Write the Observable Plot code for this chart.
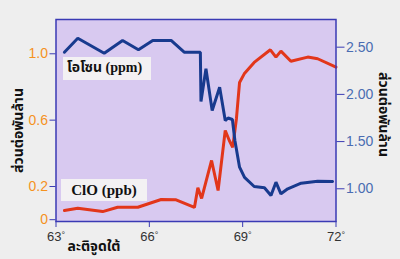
<!DOCTYPE html>
<html>
<head>
<meta charset="utf-8">
<script src="https://cdn.jsdelivr.net/npm/d3@7"></script>
<script src="https://cdn.jsdelivr.net/npm/@observablehq/plot@0.6"></script>
<style>
  html, body { margin: 0; padding: 0; background: #eeeeee; }
  #wrap { position: relative; width: 400px; height: 259px; overflow: hidden; }
  .lg { position: absolute; background: #f3f1f3; color: #111; font-family: "Liberation Serif", "Times New Roman", serif; font-weight: bold; font-size: 14px; line-height: 22px; white-space: nowrap; overflow: visible; }
  .lg .th { font-family: "Noto Sans Thai", "Noto Sans", sans-serif; }
</style>
</head>
<body>
<div id="wrap"></div>
<script>
// ClO (ppb) — left axis
const cloLat = [63.27, 63.70, 64.50, 64.98, 65.63, 66.38, 66.86, 67.45, 67.56, 67.68, 68.00, 68.21, 68.44, 68.57, 68.68, 68.80, 68.90, 69.05, 69.37, 69.89, 70.07, 70.23, 70.55, 71.09, 71.41, 72.00];
const cloVal = [0.055, 0.069, 0.049, 0.075, 0.075, 0.122, 0.120, 0.074, 0.192, 0.128, 0.357, 0.176, 0.538, 0.477, 0.437, 0.610, 0.827, 0.879, 0.948, 1.024, 0.980, 1.016, 0.955, 0.980, 0.970, 0.919];
// Ozone (ppm) — right axis
const ozLat = [63.27, 63.70, 64.55, 65.14, 65.65, 66.11, 66.70, 67.12, 67.64, 67.66, 67.82, 68.02, 68.26, 68.44, 68.53, 68.67, 68.75, 68.90, 69.06, 69.37, 69.70, 69.91, 70.07, 70.23, 70.45, 70.88, 71.41, 71.89];
const ozVal = [2.447, 2.595, 2.436, 2.571, 2.472, 2.571, 2.571, 2.447, 2.447, 1.925, 2.271, 1.829, 2.076, 1.723, 1.750, 1.734, 1.512, 1.229, 1.120, 1.024, 1.011, 0.929, 1.070, 0.947, 1.000, 1.059, 1.081, 1.077];

const xTicks = [63, 66, 69, 72];
const leftTicks = [0, 0.2, 0.6, 1.0];
const rightTicks = [1.0, 1.5, 2.0, 2.5];
const leftTitle = "ส่วนต่อพันล้าน";
const rightTitle = "ส่วนต่อพันล้าน";
const xTitle = "ละติจูดใต้";
const ozLabelThai = "โอโซน";
const ozLabelUnit = " (ppm)";
const cloLabel = "ClO (ppb)";

// map right-axis (ozone) values into left-axis coordinates
const oz2left = d3.scaleLinear().domain([1, 2.5]).range([0.1863, 1.0398]);

const clo = cloLat.map((x, i) => ({x, y: cloVal[i]}));
const oz = ozLat.map((x, i) => ({x, y: oz2left(ozVal[i])}));

const axisBlue = "#3a3ab4";
const thai = "'Noto Sans Thai', 'Noto Sans', 'DejaVu Sans', sans-serif";

const chart = Plot.plot({
  width: 400,
  height: 259,
  marginLeft: 55.5,
  marginRight: 64.5,
  marginTop: 19,
  marginBottom: 38,
  style: {background: "transparent", fontFamily: "'Liberation Sans', Arial, sans-serif", overflow: "visible"},
  x: {domain: [63, 72]},
  y: {domain: [0, 1.2], range: [219.2, 20.1]},
  marks: [
    Plot.frame({fill: "#d8c9f0", stroke: null}),
    Plot.line(clo, {x: "x", y: "y", stroke: "#e2361a", strokeWidth: 3, strokeLinejoin: "miter", curve: "linear"}),
    Plot.line(oz, {x: "x", y: "y", stroke: "#183a8e", strokeWidth: 3, strokeLinejoin: "miter", curve: "linear"}),
    Plot.frame({stroke: axisBlue, strokeWidth: 1.5}),
    Plot.axisY({anchor: "left", ticks: leftTicks, tickFormat: d => d === 0 ? "0" : d.toFixed(1), tickSize: 6, tickPadding: 2, stroke: axisBlue, fill: "#f5921e", fontSize: 14, label: null}),
    Plot.axisY({anchor: "right", ticks: rightTicks.map(oz2left), tickFormat: d => d3.format(".2f")(oz2left.invert(d)), tickSize: 8, tickPadding: 2, stroke: axisBlue, fill: "#4a6cb2", fontSize: 14, label: null}),
    Plot.axisX({ticks: xTicks, tickFormat: d => d + "°", tickSize: 6, tickPadding: 4, stroke: axisBlue, fill: "#333", fontSize: 13, label: null}),
    Plot.text([leftTitle], {frameAnchor: "left", dx: -37.5, dy: 10, rotate: -90, lineAnchor: "middle", textAnchor: "middle", fontSize: 14, fontWeight: "bold", fill: "#111", fontFamily: thai}),
    Plot.text([rightTitle], {frameAnchor: "right", dx: 47, dy: -6, rotate: 90, lineAnchor: "middle", textAnchor: "middle", fontSize: 14, fontWeight: "bold", fill: "#111", fontFamily: thai}),
    Plot.text([xTitle], {frameAnchor: "bottom-left", dx: 11.5, dy: 25.5, lineAnchor: "middle", textAnchor: "start", fontSize: 14, fontWeight: "bold", fill: "#111", fontFamily: thai})
  ]
});

const wrap = document.getElementById("wrap");
wrap.appendChild(chart);

// smaller degree sign on x tick labels
d3.select(chart).selectAll('g[aria-label="x-axis tick label"] text').each(function() {
  const t = d3.select(this);
  const s = t.text();
  if (s.endsWith("°")) {
    t.text(s.slice(0, -1));
    t.append("tspan").attr("font-size", 9).attr("dy", "-0.3em").text("°");
  }
});

const l1 = document.createElement("div");
l1.className = "lg";
l1.style.cssText = "left:63px;top:57px;width:88px;height:23px;padding-left:4px;box-sizing:border-box;";
const th = document.createElement("span");
th.className = "th";
th.textContent = ozLabelThai;
l1.appendChild(th);
l1.appendChild(document.createTextNode(ozLabelUnit));
wrap.appendChild(l1);

const l2 = document.createElement("div");
l2.className = "lg";
l2.style.cssText = "left:61px;top:179px;width:86px;height:22px;text-align:center;font-size:15px;";
l2.textContent = cloLabel;
wrap.appendChild(l2);
</script>
</body>
</html>
